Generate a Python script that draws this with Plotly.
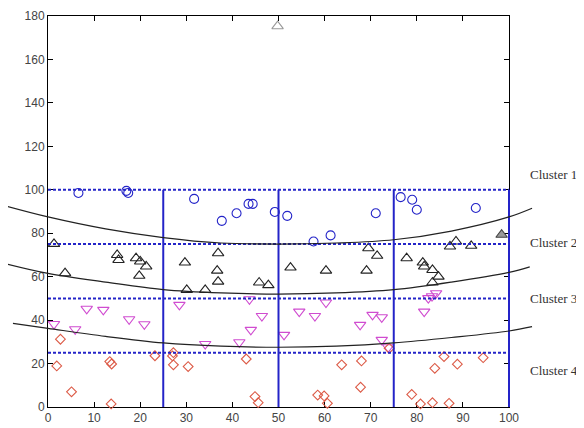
import plotly.graph_objects as go

# ---------------- data ----------------
c1_x = [6.6, 17.0, 17.4, 31.7, 37.7, 40.9, 43.5, 44.4, 49.2, 51.9, 57.6, 61.3, 71.1, 76.5, 79.0, 80.0, 92.8]
c1_y = [98.5, 99.5, 98.5, 95.8, 85.7, 89.2, 93.5, 93.5, 89.8, 88.0, 76.2, 79.0, 89.2, 96.6, 95.4, 90.8, 91.6]

c2_x = [1.3, 3.7, 15.0, 15.3, 19.1, 20.0, 21.3, 19.8, 29.7, 30.1, 34.1, 36.9, 36.7, 36.9, 45.8, 47.8,
        52.6, 60.3, 69.5, 71.4, 69.1, 77.8, 81.3, 81.6, 83.4, 84.7, 83.4, 87.2, 88.5, 91.8]
c2_y = [75.1, 61.6, 70.0, 67.7, 68.5, 67.0, 64.7, 60.4, 66.5, 53.9, 53.9, 70.8, 62.8, 57.7, 57.3, 56.1,
        64.2, 62.8, 73.1, 69.6, 62.8, 68.5, 66.5, 64.7, 63.1, 60.0, 57.3, 73.9, 76.2, 74.2]
c2_out_x = [49.8]
c2_out_y = [175.3]
c2_fill_x = [98.4]
c2_fill_y = [79.3]

c3_x = [1.3, 5.9, 8.4, 12.0, 17.6, 20.9, 28.5, 34.1, 41.5, 43.7, 44.0, 46.4, 51.2, 54.5, 57.9, 60.3,
        67.7, 70.4, 72.4, 72.4, 73.8, 81.6, 82.5, 83.3, 84.2]
c3_y = [38.2, 35.8, 45.2, 44.7, 40.4, 38.1, 47.0, 29.0, 29.8, 49.6, 35.5, 41.9, 33.2, 43.9, 41.9, 48.1,
        37.8, 42.4, 41.3, 30.9, 27.5, 43.9, 50.1, 51.0, 52.4]

c4_x = [1.9, 2.7, 5.1, 13.4, 13.8, 13.7, 23.2, 27.2, 27.0, 27.2, 30.4, 43.0, 44.9, 45.6, 74.0, 63.7,
        68.0, 67.8, 58.5, 59.9, 60.6, 78.9, 80.8, 83.4, 87.0, 83.9, 85.9, 88.8, 94.4]
c4_y = [18.9, 31.2, 7.0, 20.9, 19.8, 1.4, 23.6, 25.0, 23.5, 19.4, 18.6, 22.1, 4.8, 2.0, 27.0, 19.4,
        21.2, 9.1, 5.5, 5.1, 1.7, 5.8, 1.4, 2.0, 1.7, 17.8, 23.2, 19.7, 22.7]

# boundary curves
b1_x = [-9.3, 0, 12.5, 25, 37.5, 50, 62.5, 75, 87.5, 100, 105]
b1_y = [92.6, 87.5, 82.0, 78.0, 75.5, 75.0, 75.5, 77.0, 81.0, 87.5, 91.5]
b2_x = [-9.3, 0, 12.5, 25, 37.5, 50, 62.5, 75, 87.5, 100, 104.5]
b2_y = [66.0, 61.5, 57.5, 54.0, 52.5, 52.0, 52.5, 54.0, 57.5, 62.0, 64.5]
b3_x = [-7.6, 0, 12.5, 25, 37.5, 50, 62.5, 75, 87.5, 100, 105]
b3_y = [38.5, 36.2, 32.5, 29.5, 28.0, 27.5, 28.0, 29.5, 32.0, 35.0, 37.0]

grid_levels = [25, 50, 75, 100]
cluster_labels = ["Cluster 1", "Cluster 2", "Cluster 3", "Cluster 4"]
cluster_label_y = [107, 75.6, 49.8, 17]

x_ticks = list(range(0, 101, 10))
y_ticks = list(range(0, 181, 20))

# ---------------- figure ----------------
# page body has an 8px margin, so figure pixel = page pixel - 8
W, H = 584, 428
OFF = 8
ML, MR, MT, MB = 0, 584 - (534 - OFF), 16 - OFF, 428 - (407 - OFF)
plot_w = W - ML - MR
x_left_px, x_right_px = 48 - OFF, 509 - OFF
d0 = (x_left_px - ML) / plot_w
d1 = (x_right_px - ML) / plot_w
upp = 100.0 / (x_right_px - x_left_px)
x2_range = [-(x_left_px - ML) * upp, 100 + (W - MR - x_right_px) * upp]

fig = go.Figure()
BLUE = "#2424c8"

# grid lines
for g in grid_levels:
    fig.add_trace(go.Scatter(x=[0, 100], y=[g, g], mode="lines", xaxis="x2", yaxis="y2",
                             line=dict(color=BLUE, width=2, dash="3px,2px"), showlegend=False, hoverinfo="skip"))
    fig.add_trace(go.Scatter(x=[g, g], y=[0, 100], mode="lines", xaxis="x2", yaxis="y2",
                             line=dict(color=BLUE, width=2), showlegend=False, hoverinfo="skip"))

for bx, by in [(b1_x, b1_y), (b2_x, b2_y), (b3_x, b3_y)]:
    fig.add_trace(go.Scatter(x=bx, y=by, mode="lines", xaxis="x2", yaxis="y2",
                             line=dict(color="#222222", width=1.2, shape="spline"),
                             showlegend=False, hoverinfo="skip"))

def pts(x, y, symbol, color, size, fill=None):
    fig.add_trace(go.Scatter(x=x, y=y, mode="markers", xaxis="x", yaxis="y", showlegend=False,
                             cliponaxis=False,
                             marker=dict(symbol=symbol, size=size, color=fill or "rgba(0,0,0,0)",
                                         line=dict(color=color, width=1.1))))

pts(c1_x, c1_y, "circle", BLUE, 9)
pts(c2_x, c2_y, "triangle-up", "#222222", 10)
pts(c2_out_x, c2_out_y, "triangle-up", "#999999", 10)
pts(c2_fill_x, c2_fill_y, "triangle-up", "#444444", 10, fill="#9a9a9a")
pts(c3_x, c3_y, "triangle-down", "#d04cd0", 10)
pts(c4_x, c4_y, "diamond", "#dc5a46", 7.5)

for lab, ly in zip(cluster_labels, cluster_label_y):
    fig.add_annotation(x=1.0, xref="paper", xshift=-6, y=ly, yref="y", text=lab, showarrow=False,
                       xanchor="left", yanchor="middle",
                       font=dict(family="Liberation Serif", size=13, color="#333333"))

axis_common = dict(showgrid=False, zeroline=False, showline=True, linecolor="black", linewidth=1,
                   mirror="ticks", ticks="inside", ticklen=5, tickcolor="black",
                   tickfont=dict(family="Liberation Sans", size=12, color="#444444"),
                   layer="below traces", automargin=False)

fig.update_layout(
    width=W, height=H,
    margin=dict(l=ML, r=MR, t=MT, b=MB, autoexpand=False),
    paper_bgcolor="white", plot_bgcolor="rgba(0,0,0,0)",
    xaxis=dict(domain=[d0, d1], range=[0, 100], tickvals=x_ticks, anchor="y", **axis_common),
    yaxis=dict(domain=[0, 1], range=[0, 180], tickvals=y_ticks, anchor="x", **axis_common),
    xaxis2=dict(domain=[0, 1], range=x2_range, visible=False, anchor="y2", automargin=False),
    yaxis2=dict(domain=[0, 1], range=[0, 180], visible=False, anchor="x2", automargin=False),
)

fig.write_html("out.html")
